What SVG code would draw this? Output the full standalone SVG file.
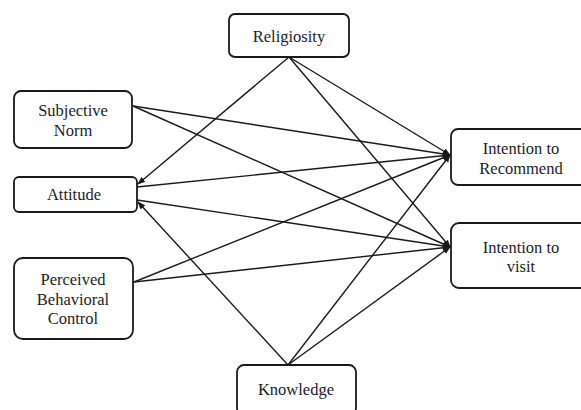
<svg xmlns="http://www.w3.org/2000/svg" width="581" height="410" viewBox="0 0 581 410">
<style>
.box{fill:#fff;stroke:#1a1a1a;stroke-width:1.8}
.t{font-family:"Liberation Serif","Times New Roman",serif;font-size:16.5px;fill:#1c1c28;text-anchor:middle}
.c line{stroke:#1a1a1a;stroke-width:1.4;marker-end:url(#ah)}
</style>
<defs>
<marker id="ah" viewBox="0 0 10 10" refX="9" refY="5" markerWidth="8" markerHeight="8" markerUnits="userSpaceOnUse" orient="auto">
<path d="M0,1 L10,5 L0,9 z" fill="#1a1a1a"/>
</marker>
</defs>
<rect width="581" height="410" fill="#fff"/>
<g class="c" id="connectors">
<line x1="289" y1="57" x2="138" y2="184"/>
<line x1="289" y1="57" x2="450" y2="155"/>
<line x1="289" y1="57" x2="450" y2="247"/>
<line x1="133" y1="106" x2="450" y2="155"/>
<line x1="133" y1="106" x2="450" y2="247"/>
<line x1="137" y1="187" x2="450" y2="155"/>
<line x1="137" y1="200" x2="450" y2="247"/>
<line x1="134" y1="282" x2="450" y2="155"/>
<line x1="134" y1="282" x2="450" y2="247"/>
<line x1="288" y1="365" x2="138" y2="202"/>
<line x1="288" y1="365" x2="450" y2="155"/>
<line x1="288" y1="365" x2="450" y2="247"/>
</g>
<g id="religiosity"><rect class="box" x="229" y="14" width="120" height="43" rx="6"/><text class="t" x="289" y="42">Religiosity</text></g>
<g id="subjective-norm"><rect class="box" x="14" y="91" width="118" height="57" rx="7"/><text class="t" x="73" y="116">Subjective</text><text class="t" x="73" y="136">Norm</text></g>
<g id="attitude"><rect class="box" x="14" y="177" width="123" height="35" rx="5"/><text class="t" x="74" y="200">Attitude</text></g>
<g id="pbc"><rect class="box" x="14" y="258" width="119" height="81" rx="9"/><text class="t" x="73" y="285">Perceived</text><text class="t" x="73" y="305">Behavioral</text><text class="t" x="73" y="324">Control</text></g>
<g id="knowledge"><rect class="box" x="237" y="365" width="119" height="50" rx="7"/><text class="t" x="296" y="395">Knowledge</text></g>
<g id="intention-recommend"><rect class="box" x="451" y="129" width="140" height="56" rx="7"/><text class="t" x="521" y="154">Intention to</text><text class="t" x="521" y="174">Recommend</text></g>
<g id="intention-visit"><rect class="box" x="451" y="223" width="140" height="65" rx="8"/><text class="t" x="521" y="253">Intention to</text><text class="t" x="521" y="272">visit</text></g>
</svg>
